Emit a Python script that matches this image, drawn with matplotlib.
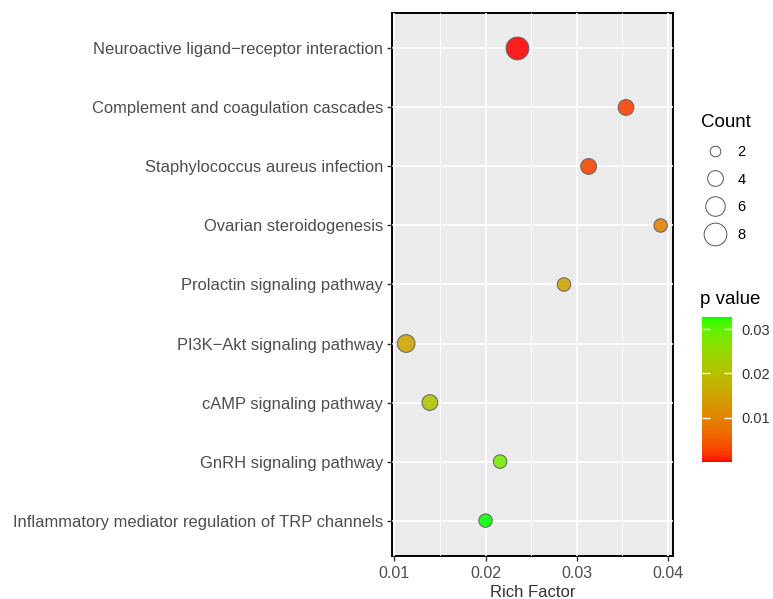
import numpy as np
import matplotlib.pyplot as plt
from matplotlib.colors import ListedColormap, Normalize
from matplotlib.cm import ScalarMappable
from matplotlib.lines import Line2D

plt.rcParams['font.family'] = ['Liberation Sans', 'DejaVu Sans']

# data, top row first
pathways = [
    'Neuroactive ligand\u2212receptor interaction',
    'Complement and coagulation cascades',
    'Staphylococcus aureus infection',
    'Ovarian steroidogenesis',
    'Prolactin signaling pathway',
    'PI3K\u2212Akt signaling pathway',
    'cAMP signaling pathway',
    'GnRH signaling pathway',
    'Inflammatory mediator regulation of TRP channels',
]
rich_factor = [0.0235, 0.0354, 0.0313, 0.0392, 0.0286, 0.0113, 0.0139, 0.0216, 0.0200]
counts = [8, 4, 4, 3, 3, 5, 4, 3, 3]
p_values = [0.0001, 0.0025, 0.0030, 0.0095, 0.0150, 0.0155, 0.0210, 0.0280, 0.0327]

legend_counts = [2, 4, 6, 8]
p_ticks = [0.01, 0.02, 0.03]
x_ticks = [0.01, 0.02, 0.03, 0.04]


# red -> green gradient interpolated in Lab space (like ggplot)
def srgb_to_lab(rgb):
    rgb = np.asarray(rgb, float)
    lin = np.where(rgb <= 0.04045, rgb / 12.92, ((rgb + 0.055) / 1.055) ** 2.4)
    m = np.array([[0.4124, 0.3576, 0.1805],
                  [0.2126, 0.7152, 0.0722],
                  [0.0193, 0.1192, 0.9505]])
    xyz = m @ lin / np.array([0.95047, 1.0, 1.08883])
    f = np.where(xyz > 0.008856, np.cbrt(xyz), 7.787 * xyz + 16 / 116)
    return np.array([116 * f[1] - 16, 500 * (f[0] - f[1]), 200 * (f[1] - f[2])])


def lab_to_srgb(lab):
    L, a, b = lab
    fy = (L + 16) / 116
    fx = fy + a / 500
    fz = fy - b / 200
    f = np.array([fx, fy, fz])
    xyz = np.where(f ** 3 > 0.008856, f ** 3, (f - 16 / 116) / 7.787)
    xyz = xyz * np.array([0.95047, 1.0, 1.08883])
    minv = np.array([[3.2406, -1.5372, -0.4986],
                     [-0.9689, 1.8758, 0.0415],
                     [0.0557, -0.2040, 1.0570]])
    lin = minv @ xyz
    rgb = np.where(lin <= 0.0031308, 12.92 * lin, 1.055 * np.clip(lin, 0, None) ** (1 / 2.4) - 0.055)
    return np.clip(rgb, 0, 1)


lab_lo = srgb_to_lab([1, 0, 0])
lab_hi = srgb_to_lab([0, 1, 0])
cmap = ListedColormap([lab_to_srgb(lab_lo + t * (lab_hi - lab_lo)) for t in np.linspace(0, 1, 256)])
norm = Normalize(min(p_values), max(p_values))


def size_of(c):
    return 34.7 * np.asarray(c, float) - 10.4


fig = plt.figure(figsize=(7.73, 5.99), dpi=100)
ax = fig.add_axes([392 / 773, 1 - 556 / 599, 281 / 773, 543 / 599])

ypos = np.arange(len(pathways))[::-1] + 1
ax.scatter(rich_factor, ypos, s=size_of(counts), c=p_values, cmap=cmap, norm=norm,
           edgecolors='#606060', linewidths=0.8, alpha=0.88, zorder=3)

ax.set_facecolor('#EBEBEB')
ax.set_xlim(0.00975, 0.04055)
ax.set_ylim(0.4, 9.6)
ax.set_yticks(ypos, pathways)
ax.set_xticks(x_ticks, [f'{v:.2f}' for v in x_ticks])
ax.set_xticks([0.015, 0.025, 0.035], minor=True)
ax.set_axisbelow(True)
ax.grid(which='major', color='white', linewidth=1.2)
ax.grid(which='minor', axis='x', color='white', linewidth=0.6)
ax.tick_params(which='minor', length=0)
ax.tick_params(which='major', length=3.5, width=1, color='#333333',
               labelcolor='#4D4D4D', labelsize=11.9, pad=3)
ax.tick_params(axis='x', labelsize=11.5, pad=4)
for sp in ax.spines.values():
    sp.set_color('black')
    sp.set_linewidth(1.4)
    sp.set_zorder(0.4)
ax.set_xlabel('Rich Factor', fontsize=12, color='#333333', labelpad=2.5)

# size legend
handles = [Line2D([], [], linestyle='none', marker='o', markersize=np.sqrt(size_of(c)),
                  markerfacecolor='none', markeredgecolor='#555555', markeredgewidth=0.7)
           for c in legend_counts]
fig.legend(handles, [str(c) for c in legend_counts], title='Count', loc='upper left',
           bbox_to_anchor=(695 / 773, 1 - 108 / 599), frameon=False, fontsize=10.5,
           title_fontsize=13.5, labelspacing=0.95, handletextpad=0.5, alignment='left',
           borderaxespad=0)

# colour bar
cax = fig.add_axes([702 / 773, 1 - 462 / 599, 30 / 773, 145 / 599])
cb = fig.colorbar(ScalarMappable(norm=norm, cmap=cmap), cax=cax, ticks=p_ticks)
cb.outline.set_visible(False)
cb.ax.yaxis.set_ticks_position('both')
cb.ax.tick_params(direction='in', length=6, width=1, color='white',
                  labelsize=10.5, labelcolor='#333333', pad=7)
cb.ax.tick_params(labelright=True, labelleft=False)
cb.ax.set_yticklabels([f'{v:.2f}' for v in p_ticks])
fig.text(700 / 773, 1 - 299 / 599, 'p value', fontsize=13.5, va='center', ha='left')

fig.savefig('out.png', dpi=100)
